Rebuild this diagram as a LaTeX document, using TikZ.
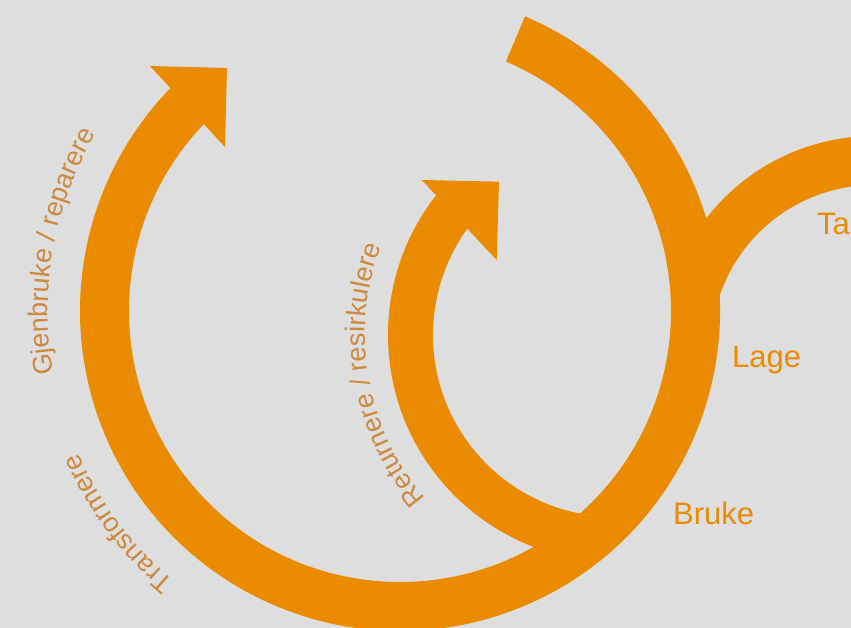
\documentclass[tikz,border=0pt]{standalone}
\usepackage{fontspec}
\setmainfont{Liberation Sans}
\usetikzlibrary{calc,decorations.text}
\definecolor{bgc}{RGB}{222,222,222}
\definecolor{org}{RGB}{235,140,0}
\definecolor{lblc}{RGB}{204,138,64}
\newcommand\arclabelfont{\fontsize{27}{30}\selectfont}
\tikzset{
  band/.style={fill=org},
  mainlabel/.style={text=org, font=\fontsize{31}{36}\selectfont, inner sep=0pt, anchor=base west},
  arclabel/.style={decorate, decoration={text along path, text align=center, text color=lblc}}
}
\begin{document}
\begin{tikzpicture}[x=1pt,y=1pt]
\useasboundingbox (0,0) rectangle (851,628);
\clip (0,0) rectangle (851,628);
\fill[bgc] (0,0) rectangle (851,628);
% centres
\coordinate (C) at (400,317);
\coordinate (S) at (615,293);
\coordinate (B) at (874,280);
% small ring (Returnere / resirkulere)
\fill[band] ($(S)+(140:227)$) arc[start angle=140, end angle=262, radius=227]
  -- ($(S)+(262:182)$) arc[start angle=262, end angle=140, radius=182] -- cycle;
\fill[band] (421.7,448) -- (499,446.3) -- (496.7,368) -- cycle;
% big ring
\fill[band] ($(C)+(67:320)$) arc[start angle=67, end angle=-225, radius=320]
  -- ($(C)+(-225:271)$) arc[start angle=-225, end angle=67, radius=271] -- cycle;
\fill[band] (150,562) -- (227,560) -- (225,481) -- cycle;
% branch from the right
\fill[band] ($(B)+(60:212)$) arc[start angle=60, end angle=162, radius=212]
  -- ($(B)+(162:163)$) arc[start angle=162, end angle=60, radius=163] -- cycle;
% curved labels
\path[arclabel, decoration={text={|\arclabelfont|Gjenbruke / reparere}}]
  ($(C)+(215:352)$) arc[start angle=215, end angle=125, radius=352];
\path[arclabel, decoration={text={|\arclabelfont|Transformere}}]
  ($(C)+(262:352)$) arc[start angle=262, end angle=172, radius=352];
\path[arclabel, decoration={text={|\arclabelfont|Returnere / resirkulere}}]
  ($(S)+(235:250)$) arc[start angle=235, end angle=145, radius=250];
% straight labels
\node[mainlabel] (lage) at (732,260) {Lage};
\node[mainlabel] (bruke) at (673,103) {Bruke};
\node[mainlabel] (ta) at (817,393) {Ta};
\end{tikzpicture}
\end{document}
